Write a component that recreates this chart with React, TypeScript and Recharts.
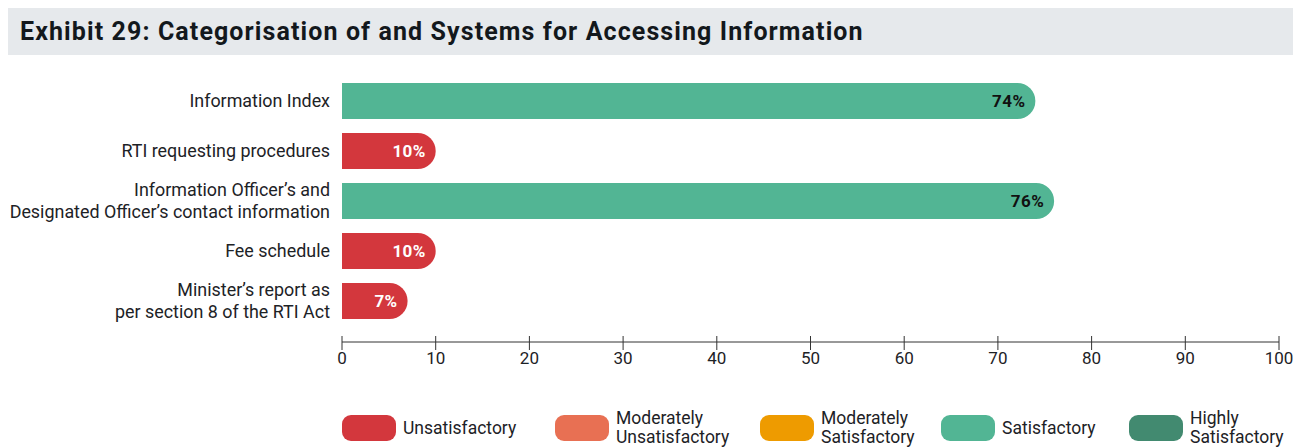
import React from "react";
import { Bar, BarChart, Cell, LabelList, XAxis, YAxis } from "recharts";

const categories = [
  "Information Index",
  "RTI requesting procedures",
  "Information Officer’s and\nDesignated Officer’s contact information",
  "Fee schedule",
  "Minister’s report as\nper section 8 of the RTI Act",
];
const scores = [74, 10, 76, 10, 7];
const ratings = [
  "Satisfactory",
  "Unsatisfactory",
  "Satisfactory",
  "Unsatisfactory",
  "Unsatisfactory",
];
const xTicks = [0, 10, 20, 30, 40, 50, 60, 70, 80, 90, 100];

const legendNames = [
  "Unsatisfactory",
  "Moderately\nUnsatisfactory",
  "Moderately\nSatisfactory",
  "Satisfactory",
  "Highly\nSatisfactory",
];
const legendColors = ["#d3373d", "#e87053", "#ee9b00", "#52b594", "#428a70"];

const colorOf = (rating: string) =>
  legendColors[legendNames.findIndex((n) => n.replace("\n", " ") === rating)];

const data = categories.map((name, i) => ({
  name,
  score: scores[i],
  rating: ratings[i],
}));

const FONT = "Roboto, 'Open Sans', sans-serif";
const INK = "#1d2226";

function CategoryTick(props: any) {
  const { x, y, payload } = props;
  const lines: string[] = String(payload.value).split("\n");
  const lh = 22;
  const start = y - ((lines.length - 1) * lh) / 2;
  return (
    <text x={x - 4} y={start} textAnchor="end" fill={INK} fontSize={17.9} fontFamily={FONT}>
      {lines.map((l, i) => (
        <tspan key={i} x={x - 4} y={start + i * lh} dy="0.35em">
          {l}
        </tspan>
      ))}
    </text>
  );
}

function ValueTick(props: any) {
  const { x, y, payload } = props;
  return (
    <g>
      <line x1={x} x2={x} y1={y - 14} y2={y} stroke="#333" strokeWidth={1} />
      <text x={x} y={y + 14} textAnchor="middle" fill={INK} fontSize={17} fontFamily={FONT}>
        {payload.value}
      </text>
    </g>
  );
}

function ScoreLabel(props: any) {
  const { x, y, width, height, value, index } = props;
  const light = ratings[index] === "Unsatisfactory";
  return (
    <text
      x={x + width - 10}
      y={y + height / 2}
      dy="0.35em"
      textAnchor="end"
      fill={light ? "#ffffff" : "#111111"}
      fontSize={17}
      fontWeight={700}
      letterSpacing={0.4}
      fontFamily={FONT}
    >
      {value}%
    </text>
  );
}

export default function App() {
  return (
    <div style={{ width: 1285, fontFamily: FONT, color: INK }}>
      <style>{"html,body{overflow:hidden}"}</style>
      <div
        style={{
          width: 1273,
          height: 47,
          lineHeight: "47px",
          background: "#e6e9ec",
          paddingLeft: 12,
          fontSize: 25,
          fontWeight: 700,
          color: "#13181c",
          letterSpacing: 1.1,
          whiteSpace: "nowrap",
        }}
      >
        Exhibit 29: Categorisation of and Systems for Accessing Information
      </div>
      <BarChart
        width={1285}
        height={340}
        data={data}
        layout="vertical"
        margin={{ top: 21, right: 14, bottom: 13, left: 0 }}
      >
        <XAxis
          type="number"
          domain={[0, 100]}
          ticks={xTicks}
          interval={0}
          tickLine={false}
          axisLine={{ stroke: "#333" }}
          tick={<ValueTick />}
          height={40}
        />
        <YAxis
          type="category"
          dataKey="name"
          width={334}
          axisLine={false}
          tickLine={false}
          interval={0}
          padding={{ top: 0, bottom: 16 }}
          tick={<CategoryTick />}
        />
        <Bar
          dataKey="score"
          barSize={36}
          radius={[0, 18, 18, 0]}
          isAnimationActive={false}
        >
          {data.map((d, i) => (
            <Cell key={i} fill={colorOf(d.rating)} />
          ))}
          <LabelList dataKey="score" content={<ScoreLabel />} />
        </Bar>
      </BarChart>
      <div style={{ position: "relative", height: 53 }}>
        {legendNames.map((n, i) => {
          const lefts = [334, 547, 752, 933, 1121];
          const lines = n.split("\n");
          return (
            <div
              key={n}
              style={{
                position: "absolute",
                left: lefts[i],
                top: 14,
                display: "flex",
                alignItems: "center",
                height: 38,
              }}
            >
              <div
                style={{
                  width: 54,
                  height: 26,
                  borderRadius: 9,
                  background: legendColors[i],
                }}
              />
              <div style={{ marginLeft: 7, fontSize: 17.5, lineHeight: "19px", whiteSpace: "nowrap" }}>
                {lines.map((l) => (
                  <div key={l}>{l}</div>
                ))}
              </div>
            </div>
          );
        })}
      </div>
    </div>
  );
}
